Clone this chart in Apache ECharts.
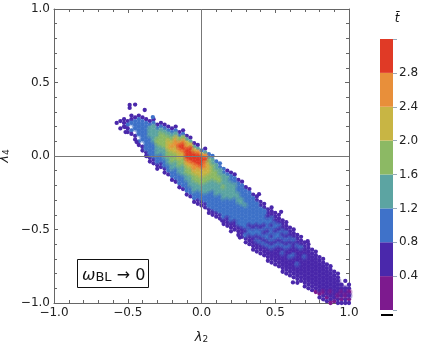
<!doctype html>
<html>
<head>
<meta charset="utf-8"/>
<title>lambda2 lambda4 scan</title>
<script src="https://cdn.jsdelivr.net/npm/echarts@6/dist/echarts.min.js"></script>
<style>
*{margin:0;padding:0;}
body{background-color:#fff;}
#main{width:427px;height:344px;}
</style>
</head>
<body>
<div id="main"></div>
<script type="text/javascript">
// colour bar: one entry per band, 0.4 wide
var bandValues = [0.4, 0.4, 0.4, 0.4, 0.4, 0.4, 0.4, 0.4];
var bandColors = ['#7d1a8e', '#4a28ab', '#3f72c9', '#5ca4a2', '#8cb964', '#c8b544', '#e88f3a', '#e03a26'];

// cloud: lambda2, lambda4 of the first
// cell, then t-bar band of each cell going down in 0.025 steps ('.' = empty)
var lambda2Cols = [-0.575, -0.55, -0.525, -0.5, -0.475, -0.45, -0.425, -0.4, -0.375, -0.35, -0.325, -0.3, -0.275, -0.25, -0.225, -0.2,
  -0.175, -0.15, -0.125, -0.1, -0.075, -0.05, -0.025, 0, 0.025, 0.05, 0.075, 0.1, 0.125, 0.15, 0.175, 0.2,
  0.225, 0.25, 0.275, 0.3, 0.325, 0.35, 0.375, 0.4, 0.425, 0.45, 0.475, 0.5, 0.525, 0.55, 0.575, 0.6,
  0.625, 0.65, 0.675, 0.7, 0.725, 0.75, 0.775, 0.8, 0.825, 0.85, 0.875, 0.9, 0.925, 0.95, 0.975, 1.0];
var lambda4Tops = [0.225, 0.2375, 0.25, 0.2375, 0.275, 0.2625, 0.275, 0.2625, 0.25, 0.2375, 0.25, 0.2125, 0.225, 0.2125, 0.2, 0.1875,
  0.2, 0.1625, 0.175, 0.1375, 0.125, 0.0875, 0.075, 0.0375, 0.05, 0.0125, 0, -0.0375, -0.05, -0.0875, -0.1, -0.1125,
  -0.125, -0.1625, -0.175, -0.2125, -0.225, -0.2625, -0.275, -0.3125, -0.325, -0.3625, -0.35, -0.3875, -0.4, -0.4375,
  -0.45, -0.4875, -0.5, -0.5375, -0.55, -0.5875, -0.6, -0.6375, -0.65, -0.6875, -0.7, -0.7375, -0.75, -0.7875, -0.8, -0.85,
  -0.85, -0.875];
var tbarCells = ['1', '1.1', '111', '1211', '112.21', '1222.11', '122222.21', '1222222.21', '12222222211', '123332222211', '1233333222211', '1233443332211',
  '1234444332211', '12344443332211', '12345554433221', '123456544433221', '1235665544332221', '1246765544332221', '12467765443332221', '13567776544332221',
  '13577776544333221', '13577766544333221', '13677765544332211', '2577765544332211', '13676655443332211', '23455544333222211', '23344443332222211', '2334443333222211',
  '2233443332222211', '2233343332222211', '1233333322222111', '12233333222222111', '1223333222222111', '1222333222222111', '1222233222222111', '1222232222221211',
  '1222222222122111', '1222222221221111', '1122222212212111', '112222212212111', '112222121212111', '111222122121111', '1112212212121111', '111221221211111',
  '111212212111111', '111212121211111', '111212121111111', '11121211211111', '11121112111111', '11121111211111', '1112111111111', '1111211111111',
  '1111111111111', '111111111111', '111111111110', '111111111101', '111111111011', '11111111101', '11111110110', '1111111101', '111111011', '.110101', '1.11011', '110101'];

// isolated dots away from the main body
var strayLambda2 = [-0.487, -0.487, -0.45, -0.385, -0.52, -0.515, -0.44, -0.4, -0.37, -0.33, 0.54, 0.72, 0.39, 0.62, 0.14, 0.26];
var strayLambda4 = [0.347, 0.327, 0.35, 0.313, 0.197, 0.163, 0.095, 0.063, 0.0, 0.265, -0.38, -0.58, -0.26, -0.86, -0.44, -0.555];
var strayTbar = [1, 1, 1, 1, 1, 1, 1, 1, 1, 2, 1, 1, 1, 1, 1, 1];

var ticksY = ['0.4', '0.8', '1.2', '1.6', '2.0', '2.4', '2.8'];

var points = [];
var inner = []; // cells with a neighbour on both sides, these get the soft overlay
lambda2Cols.forEach(function (x, i) {
  var cells = tbarCells[i];
  for (var k = 0; k < cells.length; k++) {
    if (cells[k] === '.') continue;
    var pt = [x, lambda4Tops[i] - k * 0.025, +cells[k]];
    points.push(pt);
    if (k > 1 && k < cells.length - 2) inner.push(pt);
  }
});
strayLambda2.forEach(function (x, i) {
  points.push([x, strayLambda4[i], strayTbar[i]]);
});

var FONT = '"DejaVu Sans"';
var TXT = '#222';
var FRAME = '#666';

function signed(v) {
  return v.toFixed(1).replace('-', '\u2212');
}

function frameAxis(pos, withLabels) {
  var ax = {
    type: 'value', min: -1, max: 1, interval: 0.5, position: pos, gridIndex: 0,
    axisLine: {show: true, onZero: false, lineStyle: {color: FRAME, width: 1}},
    axisTick: {show: true, inside: true, length: 4, lineStyle: {color: FRAME}},
    minorTick: {show: true, splitNumber: 5, length: 3, lineStyle: {color: FRAME}},
    splitLine: {show: false},
    minorSplitLine: {show: false},
    axisLabel: {show: withLabels, formatter: signed, color: TXT, fontFamily: FONT, fontSize: 12, margin: 4, hideOverlap: false}
  };
  return ax;
}

var nameStyle = {
  color: TXT,
  rich: {
    l: {fontFamily: FONT, fontSize: 13, fontStyle: 'italic', color: TXT, verticalAlign: 'bottom', lineHeight: 16},
    s: {fontFamily: FONT, fontSize: 9, color: TXT, verticalAlign: 'bottom', lineHeight: 8}
  }
};

var xBottom = frameAxis('bottom', true);
xBottom.name = '{l|\u03bb}{s|2}';
xBottom.nameLocation = 'middle';
xBottom.nameGap = 25;
xBottom.nameTextStyle = nameStyle;

var yLeft = frameAxis('left', true);
yLeft.name = '{l|\u03bb}{s|4}';
yLeft.nameLocation = 'middle';
yLeft.nameGap = 43;
yLeft.nameMoveOverlap = false;
yLeft.nameTextStyle = nameStyle;

var barSeries = bandValues.map(function (v, i) {
  return {
    type: 'bar', xAxisIndex: 2, yAxisIndex: 2, stack: 'bar', barWidth: '100%',
    data: [v], itemStyle: {color: bandColors[i]}, silent: true
  };
});

function bandColor(p) {
  return bandColors[p.value[2]];
}

var option = {
  animation: false,
  grid: [
    {left: 54, top: 9, width: 295, height: 294, outerBoundsMode: 'none'},
    {left: 380, top: 39, width: 13, height: 271, outerBoundsMode: 'none'}
  ],
  xAxis: [
    xBottom,
    frameAxis('top', false),
    {type: 'category', gridIndex: 1, data: [''], show: false}
  ],
  yAxis: [
    yLeft,
    frameAxis('right', false),
    {
      type: 'value', gridIndex: 1, min: 0, max: 3.2, interval: 0.4, position: 'right',
      axisLine: {show: false},
      axisTick: {show: true, length: 4, lineStyle: {color: '#9ab'}},
      splitLine: {show: false},
      axisLabel: {
        color: TXT, fontFamily: FONT, fontSize: 12, margin: 6,
        formatter: function (v) {
          var s = v.toFixed(1);
          return ticksY.indexOf(s) >= 0 ? s : '';
        }
      }
    }
  ],
  series: [{
    type: 'scatter',
    xAxisIndex: 0,
    yAxisIndex: 0,
    data: points,
    symbolSize: 4.3,
    clip: true,
    itemStyle: {opacity: 1, color: bandColor}
  }, {
    type: 'scatter',
    xAxisIndex: 0,
    yAxisIndex: 0,
    data: inner,
    symbolSize: 7,
    clip: true,
    itemStyle: {opacity: 0.4, color: bandColor},
    markLine: {
      silent: true,
      symbol: 'none',
      animation: false,
      label: {show: false},
      lineStyle: {color: '#777', width: 1, type: 'solid'},
      data: [{xAxis: 0}, {yAxis: 0}]
    }
  }].concat(barSeries),
  graphic: [
    {type: 'rect', shape: {x: 77.5, y: 259.5, width: 71, height: 28}, style: {fill: '#fff', stroke: '#111', lineWidth: 1}, z: 20},
    {
      type: 'text', x: 82, y: 264, z: 21,
      style: {
        rich: {
          w: {fontFamily: FONT, fontSize: 16, fontStyle: 'italic', fill: '#111', verticalAlign: 'bottom', lineHeight: 20},
          b: {fontFamily: FONT, fontSize: 13, fill: '#111', verticalAlign: 'bottom', lineHeight: 12},
          r: {fontFamily: FONT, fontSize: 16, fill: '#111', verticalAlign: 'bottom', lineHeight: 20}
        },
        text: '{w|\u03c9}{b|BL}{r| \u2192 0}'
      }
    },
    {
      type: 'text', x: 397, y: 19, z: 21,
      style: {text: 't\u0304', fontFamily: FONT, fontSize: 12, fontStyle: 'italic', fill: '#111', textAlign: 'center', textVerticalAlign: 'middle'}
    },
    {type: 'rect', shape: {x: 381, y: 314, width: 12, height: 2}, style: {fill: '#000'}, z: 20}
  ]
};

var myChart = echarts.init(document.getElementById('main'), null, {renderer: 'canvas'});
myChart.setOption(option);
</script>
</body>
</html>
